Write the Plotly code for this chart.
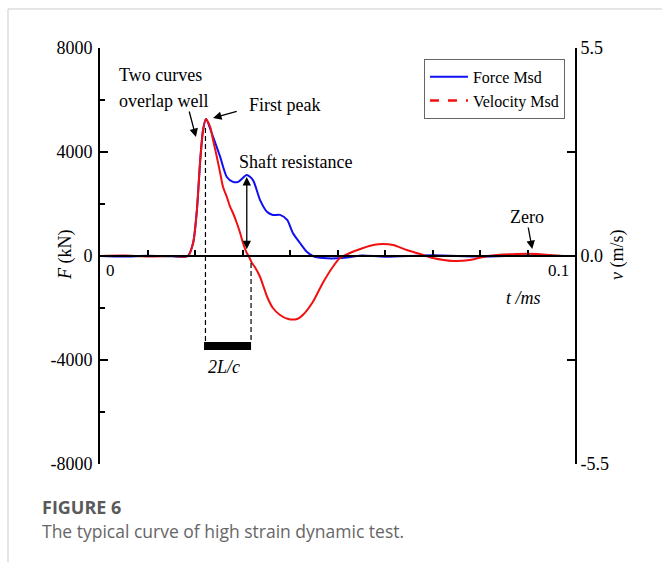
import plotly.graph_objects as go

# Measured force record (time in ms, force in kN)
t_force = [0.0, 0.005, 0.010, 0.015, 0.0185, 0.0196, 0.0204, 0.0211, 0.0217, 0.0223,
           0.0238, 0.0253, 0.0267, 0.0280, 0.0291, 0.0309, 0.0322, 0.0337, 0.0352,
           0.0364, 0.0379, 0.0394, 0.0406, 0.0421, 0.0436, 0.0448, 0.0470, 0.0500,
           0.0520, 0.0550, 0.0600, 0.0700, 0.0800, 0.0900, 0.1000]
force_kn = [0, -20, 10, -10, 0, 500, 1770, 3690, 4850, 5270,
            4580, 3810, 3040, 2850, 2850, 3115, 2920, 2150, 1690,
            1580, 1580, 1385, 885, 500, 150, 0, -80, -90,
            -60, 20, -30, 30, -20, 20, 0]

# Measured velocity record (time in ms, velocity in m/s)
t_vel = [0.0, 0.005, 0.010, 0.015, 0.0185, 0.0196, 0.0204, 0.0211, 0.0217, 0.0223,
         0.0232, 0.0238, 0.0246, 0.0253, 0.0259, 0.0267, 0.0274, 0.0280, 0.0288,
         0.0295, 0.0301, 0.0309, 0.0314, 0.0320, 0.0326, 0.0337, 0.0352, 0.0364,
         0.0379, 0.0396, 0.0415, 0.0427, 0.0448, 0.0469, 0.0490, 0.0505, 0.0526,
         0.0554, 0.0575, 0.0596, 0.0617, 0.0646, 0.0674, 0.0701, 0.0743, 0.0779,
         0.0806, 0.0836, 0.0878, 0.0920, 0.0947, 0.0975, 0.1000]
velocity_ms = [0.0, 0.01, -0.01, 0.0, 0.0, 0.344, 1.216, 2.538, 3.332, 3.623,
               3.411, 3.067, 2.618, 2.195, 1.825, 1.560, 1.296, 1.137, 0.873,
               0.608, 0.344, 0.079, -0.026, -0.185, -0.291, -0.555, -1.084, -1.375,
               -1.560, -1.666, -1.666, -1.560, -1.216, -0.714, -0.291, -0.053, 0.079,
               0.212, 0.291, 0.317, 0.291, 0.159, 0.053, -0.053, -0.132, -0.106,
               -0.026, 0.026, 0.053, 0.053, 0.026, 0.0, 0.0]

f_ticks = [-8000, -4000, 0, 4000, 8000]
v_ticks = [-5.5, 0.0, 5.5]
v_labels = ["-5.5", "0.0", "5.5"]

SERIF = "Liberation Serif"
BLUE = "#1010f0"
RED = "#f01010"

fig = go.Figure()
fig.add_trace(go.Scatter(x=t_force, y=force_kn, mode="lines", name="Force Msd",
                         line=dict(color=BLUE, width=2, shape="spline", smoothing=0.7)))
fig.add_trace(go.Scatter(x=t_vel, y=velocity_ms, mode="lines", name="Velocity Msd",
                         yaxis="y2", showlegend=False,
                         line=dict(color=RED, width=2, shape="spline", smoothing=0.7)))
# legend entry for velocity drawn dashed
fig.add_trace(go.Scatter(x=[None], y=[None], mode="lines", name="Velocity Msd",
                         yaxis="y2", line=dict(color=RED, width=2.5, dash="dash")))

fig.update_layout(
    width=662, height=562,
    margin=dict(l=100, r=87, t=48, b=98),
    plot_bgcolor="white", paper_bgcolor="white",
    font=dict(family=SERIF, size=17, color="black"),
    xaxis=dict(range=[0, 0.1], anchor="free", position=0.5,
               showline=True, linecolor="black", linewidth=2,
               ticks="inside", ticklen=5, tickwidth=2, tickcolor="black",
               tickmode="linear", tick0=0, dtick=0.01,
               showticklabels=False, showgrid=False, zeroline=False),
    yaxis=dict(range=[-8000, 8000], showline=True, linecolor="black", linewidth=2,
               ticks="inside", ticklen=8, tickwidth=2, tickcolor="black",
               tickmode="array", tickvals=f_ticks, ticktext=[str(v) for v in f_ticks],
               minor=dict(tick0=0, dtick=2000, ticks="inside",
                          ticklen=5, tickwidth=2, tickcolor="black"),
               tickfont=dict(family=SERIF, size=18, color="black"),
               ticklabelstandoff=2,
               showgrid=False, zeroline=False),
    yaxis2=dict(range=[-5.5, 5.5], overlaying="y", side="right", anchor="x",
                showline=True, linecolor="black", linewidth=2,
                ticks="inside", ticklen=8, tickwidth=2, tickcolor="black",
                tickmode="array", tickvals=v_ticks, ticktext=v_labels,
                minor=dict(tick0=0, dtick=2.75, ticks="inside",
                           ticklen=8, tickwidth=2, tickcolor="black"),
                tickfont=dict(family=SERIF, size=18, color="black"),
                showgrid=False, zeroline=False),
    legend=dict(x=0.682, y=0.974, xanchor="left", yanchor="top",
                bgcolor="white", bordercolor="#666666", borderwidth=1,
                font=dict(family=SERIF, size=16), itemwidth=38,
                tracegroupgap=0),
    showlegend=True,
)

def text(x, y, s, xanchor="center", size=18, ref=("x", "y"), **kw):
    fig.add_annotation(x=x, y=y, xref=ref[0], yref=ref[1], text=s, showarrow=False,
                       xanchor=xanchor, yanchor="middle",
                       font=dict(family=SERIF, size=size, color="black"), **kw)

def arrow(x, y, ax, ay, side="end"):
    fig.add_annotation(x=x, y=y, ax=ax, ay=ay, xref="x", yref="y", axref="x", ayref="y",
                       text="", showarrow=True, arrowhead=2, arrowsize=1.3,
                       arrowwidth=1.3, arrowcolor="black", arrowside=side,
                       startarrowhead=2, startarrowsize=1.3)

# axis titles and end labels
text(-0.0716, 0.505, "<i>F</i> (kN)", ref=("paper", "paper"), textangle=-90, size=18)
text(1.0905, 0.505, "<i>v</i> (m/s)", ref=("paper", "paper"), textangle=-90, size=18)
text(0.0023, -540, "0", size=17)
text(0.0966, -540, "0.1", size=17)
text(0.0891, -1615, "<i>t /ms</i>", size=18)

# callouts
text(0.0036, 6960, "Two curves", xanchor="left")
text(0.0036, 5960, "overlap well", xanchor="left")
arrow(0.0202, 4577, 0.0187, 5615)
text(0.0309, 5808, "First peak", xanchor="left")
arrow(0.0238, 5308, 0.0291, 5577)
text(0.0288, 3615, "Shaft resistance", xanchor="left")
arrow(0.0309, 3038, 0.0309, 200, side="end+start")
text(0.0899, 1500, "Zero")
arrow(0.0910, 269, 0.0901, 1154)
text(0.0261, -4269, "<i>2L/c</i>")

# 2L/c interval marking
fig.add_shape(type="line", x0=0.0222, x1=0.0222, y0=4920, y1=-3310, xref="x", yref="y",
              line=dict(color="black", width=1.2, dash="5px,3px"))
fig.add_shape(type="line", x0=0.0318, x1=0.0318, y0=-270, y1=-3310, xref="x", yref="y",
              line=dict(color="black", width=1.2, dash="5px,3px"))
fig.add_shape(type="rect", x0=0.0219, x1=0.0318, y0=-3310, y1=-3615, xref="x", yref="y",
              fillcolor="black", line=dict(width=0))

# page frame
fig.add_shape(type="line", x0=-0.1937, x1=1.2, y0=1.0938, y1=1.0938, xref="paper", yref="paper",
              line=dict(color="#cccccc", width=1))
fig.add_shape(type="line", x0=-0.1937, x1=-0.1937, y0=1.0938, y1=-0.25, xref="paper", yref="paper",
              line=dict(color="#cccccc", width=1))

# caption
fig.add_annotation(x=-0.1263, y=-0.1034, xref="paper", yref="paper", xanchor="left",
                   yanchor="middle", showarrow=False, text="<b>FIGURE 6</b>",
                   font=dict(family="Open Sans, sans-serif", size=18, color="#5a5a5a"))
fig.add_annotation(x=-0.1263, y=-0.161, xref="paper", yref="paper", xanchor="left",
                   yanchor="middle", showarrow=False,
                   text="The typical curve of high strain dynamic test.",
                   font=dict(family="Open Sans, sans-serif", size=17.5, color="#666666"))

fig.write_html("out.html")
